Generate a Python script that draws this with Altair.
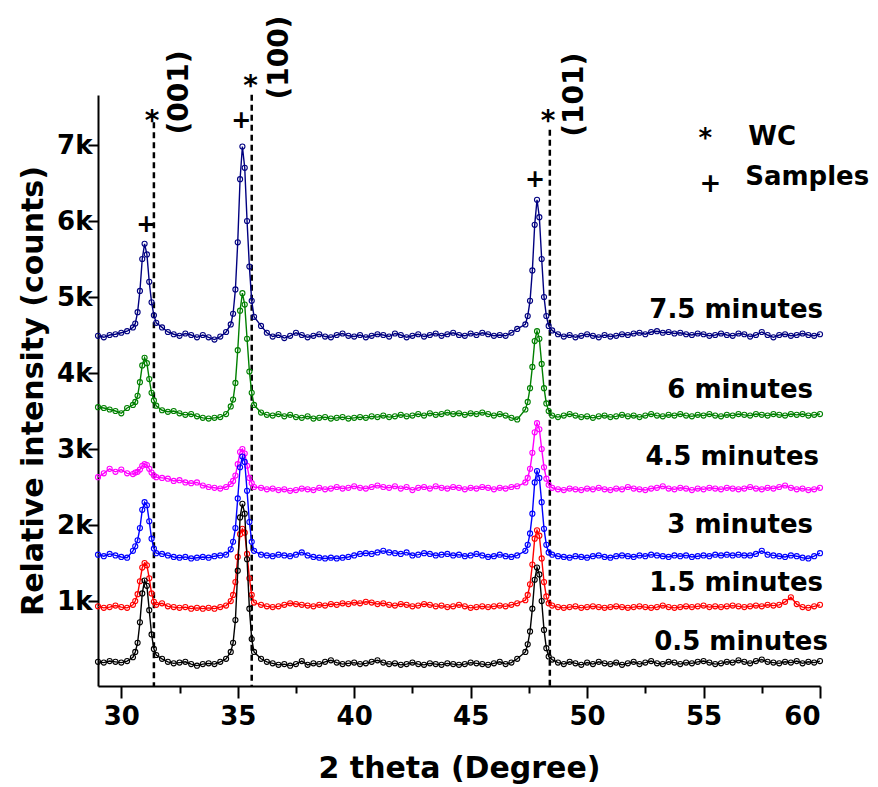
import altair as alt
import pandas as pd

# ---------------- data ----------------
TWO_THETA = [
    29.0, 29.25, 29.5, 29.75, 30.0, 30.25,
    30.5, 30.6, 30.7, 30.8, 30.9, 31.0, 31.1, 31.2, 31.3, 31.4, 31.5,
    31.75, 32.0, 32.25, 32.5, 32.75, 33.0, 33.25, 33.5, 33.75, 34.0, 34.25, 34.5,
    34.7, 34.8, 34.9, 35.0, 35.1, 35.2, 35.3, 35.4, 35.5, 35.6, 35.7,
    36.0, 36.25, 36.5, 36.75, 37.0, 37.25, 37.5, 37.75, 38.0, 38.25, 38.5, 38.75,
    39.0, 39.25, 39.5, 39.75, 40.0, 40.25, 40.5, 40.75, 41.0, 41.25, 41.5, 41.75,
    42.0, 42.25, 42.5, 42.75, 43.0, 43.25, 43.5, 43.75, 44.0, 44.25, 44.5, 44.75,
    45.0, 45.25, 45.5, 45.75, 46.0, 46.25, 46.5, 46.75, 47.0,
    47.35, 47.45, 47.55, 47.65, 47.75, 47.85, 47.95, 48.05, 48.15, 48.25, 48.35,
    48.5, 48.75,
    49.0, 49.25, 49.5, 49.75, 50.0, 50.25, 50.5, 50.75, 51.0, 51.25, 51.5, 51.75,
    52.0, 52.25, 52.5, 52.75, 53.0, 53.25, 53.5, 53.75, 54.0, 54.25, 54.5, 54.75,
    55.0, 55.25, 55.5, 55.75, 56.0, 56.25, 56.5, 56.75, 57.0, 57.25, 57.5, 57.75,
    58.0, 58.25, 58.5, 58.75, 59.0, 59.25, 59.5, 59.75, 60.0,
]

I_7_5 = [
    4490, 4470, 4500, 4510, 4530, 4550,
    4600, 4650, 4800, 5080, 5500, 5700, 5560, 5200, 4930, 4760, 4660,
    4600, 4540, 4510, 4490, 4520, 4500, 4470, 4500, 4470, 4440, 4480, 4540,
    4640, 4780, 5100, 5720, 6550, 6980, 6700, 6000, 5400, 4950, 4740,
    4620, 4530, 4480, 4500, 4460, 4490, 4530, 4500, 4470, 4490, 4510, 4480,
    4470, 4500, 4520, 4490, 4480, 4500, 4470, 4490, 4510, 4500, 4480, 4520,
    4500, 4470, 4490, 4510, 4480, 4500, 4520, 4490, 4510, 4530, 4500, 4490,
    4520, 4500, 4530, 4510, 4490, 4500, 4490, 4530, 4580,
    4640, 4750, 4950, 5350, 5950, 6280, 6050, 5500, 5000, 4750, 4620,
    4560, 4510,
    4480, 4500, 4470, 4490, 4510, 4490, 4470, 4500, 4480, 4490, 4510, 4500,
    4520, 4530, 4510, 4540, 4550, 4530, 4540, 4520, 4530, 4510, 4500, 4520,
    4510, 4490, 4500, 4520, 4500, 4490, 4520, 4510, 4480, 4500, 4540, 4500,
    4470, 4500, 4510, 4490, 4500, 4520, 4500, 4490, 4510,
]

I_6 = [
    3550, 3540, 3520, 3500, 3470, 3540,
    3580, 3620, 3700, 3880, 4100, 4200, 4130, 3920, 3740, 3640, 3570,
    3510, 3490, 3500, 3470, 3450, 3460, 3430, 3410, 3400, 3410, 3420, 3460,
    3560, 3650, 3870, 4300, 4820, 5050, 4900, 4450, 4020, 3740, 3580,
    3480, 3450, 3440, 3460, 3430, 3450, 3420, 3410, 3430, 3400, 3410, 3420,
    3400, 3410, 3420, 3400, 3410, 3420, 3410, 3430, 3420, 3440, 3420, 3430,
    3450, 3430, 3440, 3460, 3440, 3470, 3450, 3460, 3480, 3460, 3470, 3450,
    3470, 3460, 3480, 3460, 3440, 3460, 3440, 3410, 3390,
    3520, 3620, 3800, 4080, 4420, 4550, 4450, 4120, 3800, 3600, 3500,
    3440, 3420,
    3440, 3460, 3440, 3420, 3430, 3410, 3430, 3440, 3420, 3430, 3450, 3430,
    3440, 3420, 3440, 3460, 3440, 3430, 3450, 3440, 3460, 3440, 3430, 3450,
    3440, 3460, 3440, 3430, 3450, 3440, 3460, 3450, 3440, 3460, 3450, 3440,
    3460, 3450, 3440, 3460, 3450, 3460, 3440, 3450, 3460,
]

I_4_5 = [
    2630, 2680, 2740, 2700, 2730, 2680,
    2670, 2690, 2700, 2730, 2780, 2800, 2790, 2740, 2690, 2650, 2630,
    2620, 2610, 2580, 2590, 2560, 2550, 2560, 2520, 2500, 2490, 2480, 2500,
    2540, 2580, 2650, 2800, 2960, 3000, 2940, 2780, 2620, 2550, 2500,
    2490, 2470, 2480, 2460, 2470, 2450, 2460, 2480, 2470, 2460, 2490, 2470,
    2480, 2500, 2480, 2490, 2510, 2490, 2480, 2500, 2520, 2500, 2490, 2510,
    2480, 2500, 2460, 2490, 2500, 2480, 2510, 2490, 2480, 2500, 2490, 2470,
    2490, 2480, 2500, 2490, 2470, 2490, 2480, 2500, 2510,
    2560, 2620, 2740, 2950, 3220, 3340, 3260, 3000, 2760, 2610, 2530,
    2490, 2470,
    2460, 2480, 2470, 2460, 2480, 2470, 2490, 2470, 2460, 2480, 2470, 2500,
    2480, 2470, 2460, 2480, 2490, 2510, 2480, 2470, 2490, 2480, 2460, 2480,
    2470, 2490, 2480, 2470, 2490, 2480, 2470, 2480, 2500, 2480, 2470, 2490,
    2480, 2500, 2520, 2490, 2470, 2480, 2460, 2470, 2490,
]

I_3 = [
    1610, 1590, 1620, 1600, 1580, 1570,
    1660, 1720, 1800, 1960, 2200, 2300, 2260, 2050, 1820, 1690, 1630,
    1620, 1600, 1580, 1570, 1580, 1560, 1570, 1580, 1570, 1590, 1600, 1610,
    1680, 1780, 1960, 2350, 2760, 2900, 2830, 2450, 2040, 1780, 1660,
    1610, 1600, 1590, 1610, 1600, 1590, 1610, 1640, 1600, 1580, 1570, 1560,
    1570, 1560, 1570, 1580, 1600, 1620, 1630, 1620, 1640, 1660, 1640, 1630,
    1620, 1640, 1600, 1610, 1630, 1620, 1600, 1610, 1620, 1600, 1610, 1590,
    1600, 1620, 1600, 1580, 1590, 1610, 1590, 1580, 1600,
    1660, 1740, 1890, 2150, 2560, 2710, 2620, 2300, 1950, 1740, 1640,
    1610, 1590,
    1580, 1570, 1590, 1580, 1570, 1590, 1600, 1580, 1570, 1590, 1600, 1590,
    1580, 1600, 1590, 1610, 1600, 1590, 1580, 1600, 1590, 1600, 1580, 1590,
    1600, 1590, 1610, 1600, 1610, 1600, 1610, 1600, 1600, 1620, 1660, 1610,
    1600, 1590, 1580, 1600, 1590, 1570, 1560, 1590, 1630,
]

I_1_5 = [
    930, 910, 920, 940, 920, 910,
    950, 1000, 1090, 1260, 1440, 1500, 1470, 1300, 1100, 990, 950,
    970, 930, 920, 910, 920, 900, 910, 900, 910, 900, 920, 940,
    1000, 1080, 1250, 1580, 1880, 1950, 1900, 1620, 1300, 1080, 980,
    950, 930, 920, 930, 950, 970, 960, 950, 940, 930, 950, 940,
    960, 950, 970, 960, 980, 970, 990, 980, 960, 970, 950, 940,
    960, 950, 930, 940, 960, 950, 930, 940, 920, 930, 950, 930,
    910, 920, 930, 920, 930, 940, 930, 950, 970,
    1010, 1080, 1220, 1480, 1820, 1930, 1860, 1560, 1250, 1060, 970,
    940, 920,
    910, 920, 930, 910, 920, 930, 920, 910, 920, 930, 920, 910,
    920, 930, 920, 910, 920, 940, 920, 910, 920, 930, 920, 930,
    940, 920, 930, 920, 930, 940, 930, 920, 930, 940, 930, 950,
    940, 950, 990, 1050, 960, 920, 910, 930, 950,
]

I_0_5 = [
    200, 190, 210, 200, 190, 210,
    260, 330, 450, 720, 1100, 1270, 1200, 880, 560, 370, 290,
    240, 200, 180, 190, 200, 170, 150, 170, 180, 170, 200, 240,
    330, 450, 750, 1400, 2100, 2280, 2150, 1550, 900, 500, 330,
    240, 200, 180, 160, 170, 150, 170, 210, 160, 180, 170, 200,
    220, 190, 170, 180, 190, 170, 180, 200, 220, 190, 170, 180,
    160, 170, 190, 170, 160, 180, 170, 160, 180, 170, 160, 170,
    190, 180, 170, 160, 180, 200, 170, 190, 240,
    330, 430, 600, 900, 1280, 1440, 1350, 1000, 620, 380, 270,
    230, 190,
    170, 200, 180, 160, 190, 170, 200, 180, 170, 190, 160, 180,
    200, 170, 190, 210, 180, 170, 200, 190, 170, 190, 180, 200,
    210, 190, 170, 180, 200, 190, 220, 200, 180, 210, 230, 200,
    190, 180, 200, 190, 210, 180, 200, 190, 210,
]

SERIES_NAMES = ["7.5 minutes", "6 minutes", "4.5 minutes", "3 minutes", "1.5 minutes", "0.5 minutes"]
SERIES_VALUES = [I_7_5, I_6, I_4_5, I_3, I_1_5, I_0_5]
SERIES_COLORS = ["#000080", "#008000", "#ff00ff", "#0000ff", "#ff0000", "#000000"]

# series label positions (data coords)
LABEL_X = [60.13, 59.70, 59.96, 59.70, 60.13, 60.34]
LABEL_Y = [4830, 3777, 2895, 2000, 1237, 461]

# WC reference lines
WC_POS = [31.4, 35.6, 48.4]
WC_TOP = [7300, 7660, 7200]
HKL = ["(001)", "(100)", "(101)"]
HKL_X = [32.54, 36.82, 49.49]
HKL_Y = [7690, 8150, 7660]
STAR_X = [31.32, 35.55, 48.33]
STAR_Y = [7420, 7880, 7420]
PLUS_X = [31.07, 35.15, 47.77]
PLUS_Y = [5950, 7320, 6540]

LEGEND_SYM = ["*", "+"]
LEGEND_SYM_X = [55.08, 55.29]
LEGEND_SYM_Y = [7160, 6567]
LEGEND_TXT = ["WC", "Samples"]
LEGEND_TXT_X = [56.92, 56.79]
LEGEND_TXT_Y = [7106, 6580]

Y_TICKS = [1000, 2000, 3000, 4000, 5000, 6000, 7000]
X_TICKS = [30, 32.5, 35, 37.5, 40, 42.5, 45, 47.5, 50, 52.5, 55, 57.5, 60]

FONT = "DejaVu Sans"
X_DOMAIN = [29, 60]
Y_DOMAIN = [-118, 7658]
W, H = 722, 591

xscale = alt.Scale(domain=X_DOMAIN, nice=False, zero=False)
yscale = alt.Scale(domain=Y_DOMAIN, nice=False, zero=False)

x_axis = alt.Axis(
    values=X_TICKS,
    labelExpr="datum.value % 5 == 0 ? datum.label : ''",
    tickSize={"condition": {"test": "datum.value % 5 == 0", "value": 12}, "value": 7},
    title="2 theta (Degree)", grid=False,
    domainColor="black", domainWidth=2, tickColor="black", tickWidth=2,
    labelFont=FONT, labelFontSize=26, labelFontWeight="bold", labelColor="black",
    labelPadding=5, labelOverlap=False,
    titleFont=FONT, titleFontSize=30, titleFontWeight="bold", titleColor="black",
    titlePadding=24,
)
y_axis = alt.Axis(
    values=Y_TICKS,
    labelExpr="datum.value / 1000 + 'k'",
    tickSize=10, title="Relative intensity (counts)", grid=False,
    domainColor="black", domainWidth=2, tickColor="black", tickWidth=2,
    labelFont=FONT, labelFontSize=26, labelFontWeight="bold", labelColor="black",
    labelPadding=-4,
    titleFont=FONT, titleFontSize=30, titleFontWeight="bold", titleColor="black",
    titlePadding=8,
)

layers = []

# dashed WC lines
wc_df = pd.DataFrame({"x": WC_POS, "top": WC_TOP})
rules = alt.Chart(wc_df).mark_rule(color="black", strokeWidth=2.5, strokeDash=[6, 4]).encode(
    x=alt.X("x:Q", scale=xscale, axis=x_axis),
    y=alt.Y("top:Q", scale=yscale, axis=y_axis),
    y2=alt.value(H),
)
layers.append(rules)

for name, vals, col in zip(SERIES_NAMES, SERIES_VALUES, SERIES_COLORS):
    df = pd.DataFrame({"theta": TWO_THETA[:len(vals)], "I": vals})
    base = alt.Chart(df).encode(
        x=alt.X("theta:Q", scale=xscale, axis=x_axis),
        y=alt.Y("I:Q", scale=yscale, axis=y_axis),
    )
    layers.append(base.mark_line(color=col, strokeWidth=1.4))
    layers.append(base.mark_point(shape="circle", filled=False, color=col, size=26, strokeWidth=1.1, opacity=1))

# series labels
lab_df = pd.DataFrame({"x": LABEL_X, "y": LABEL_Y, "t": SERIES_NAMES})
layers.append(alt.Chart(lab_df).mark_text(
    font=FONT, fontSize=26, fontWeight="bold", color="black", align="right", baseline="middle"
).encode(x=alt.X("x:Q", scale=xscale), y=alt.Y("y:Q", scale=yscale), text="t:N"))

# hkl labels
hkl_df = pd.DataFrame({"x": HKL_X, "y": HKL_Y, "t": HKL})
layers.append(alt.Chart(hkl_df).mark_text(
    font=FONT, fontSize=28, fontWeight="bold", color="black", align="center", baseline="middle", angle=270
).encode(x=alt.X("x:Q", scale=xscale), y=alt.Y("y:Q", scale=yscale), text="t:N"))

# stars and plus markers
star_df = pd.DataFrame({"x": STAR_X, "y": STAR_Y, "t": ["*"] * len(STAR_X)})
layers.append(alt.Chart(star_df).mark_text(
    font=FONT, fontSize=28, fontWeight="bold", color="black", align="center", baseline="middle", dy=9
).encode(x=alt.X("x:Q", scale=xscale), y=alt.Y("y:Q", scale=yscale), text="t:N"))
plus_df = pd.DataFrame({"x": PLUS_X, "y": PLUS_Y, "t": ["+"] * len(PLUS_X)})
layers.append(alt.Chart(plus_df).mark_text(
    font=FONT, fontSize=24, fontWeight="bold", color="black", align="center", baseline="middle"
).encode(x=alt.X("x:Q", scale=xscale), y=alt.Y("y:Q", scale=yscale), text="t:N"))

# legend
lsym_df = pd.DataFrame({"x": LEGEND_SYM_X, "y": LEGEND_SYM_Y, "t": LEGEND_SYM})
layers.append(alt.Chart(lsym_df).mark_text(
    font=FONT, fontSize=26, fontWeight="bold", color="black", align="center", baseline="middle", dy=6
).encode(x=alt.X("x:Q", scale=xscale), y=alt.Y("y:Q", scale=yscale), text="t:N"))
ltxt_df = pd.DataFrame({"x": LEGEND_TXT_X, "y": LEGEND_TXT_Y, "t": LEGEND_TXT})
layers.append(alt.Chart(ltxt_df).mark_text(
    font=FONT, fontSize=26, fontWeight="bold", color="black", align="left", baseline="middle"
).encode(x=alt.X("x:Q", scale=xscale), y=alt.Y("y:Q", scale=yscale), text="t:N"))

chart = alt.layer(*layers).properties(
    width=W, height=H,
    autosize=alt.AutoSizeParams(type="none"),
    padding={"left": 98, "top": 95, "right": 58, "bottom": 101},
    background="white",
).configure_view(stroke=None)

chart.save("out.html", embed_options={"renderer": "svg", "actions": False})
